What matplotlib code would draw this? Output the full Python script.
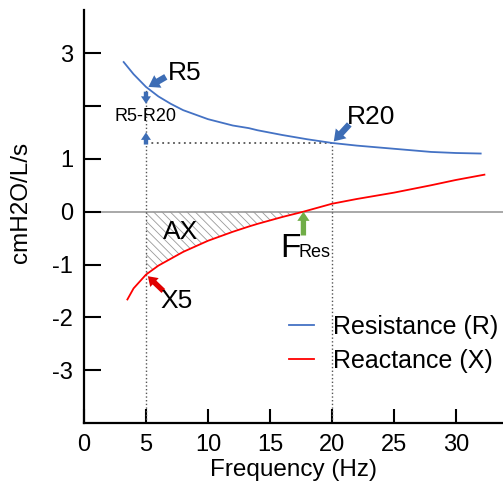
import numpy as np
import matplotlib
matplotlib.use("Agg")
import matplotlib.pyplot as plt

plt.rcParams['font.family'] = ['Liberation Sans', 'DejaVu Sans']
plt.rcParams['hatch.linewidth'] = 0.6

# values
freq_r = [3.2, 4, 5, 6, 7, 8, 10, 12, 13.3, 14, 16, 18, 20, 22, 24, 25, 26, 28, 30, 32]
resistance = [2.83, 2.6, 2.36, 2.18, 2.04, 1.92, 1.75, 1.63, 1.58, 1.54, 1.45, 1.37,
              1.30, 1.25, 1.21, 1.19, 1.17, 1.13, 1.11, 1.10]
freq_x = [3.5, 4, 5, 6, 8, 10, 12, 13.3, 14, 16, 17.7, 18, 20, 22, 25, 28, 30, 32.3]
reactance = [-1.66, -1.45, -1.19, -1.02, -0.76, -0.55, -0.38, -0.28, -0.23, -0.10,
             0.0, 0.02, 0.15, 0.24, 0.36, 0.50, 0.60, 0.70]
r5, r20, x5, f_res = 2.36, 1.30, -1.19, 17.7

blue = '#4472C4'
red = '#FF0000'
green = '#70AD47'
arrow_blue = '#3D6DB5'

fig = plt.figure(figsize=(5.03, 4.87), dpi=100)
ax = fig.add_axes([0.167, 0.131, 0.833, 0.848])

ax.axhline(0, color='#999999', lw=1.2, zorder=1)
ax.plot(freq_r, resistance, color=blue, lw=1.3, label='Resistance (R)', zorder=3)
ax.plot(freq_x, reactance, color=red, lw=1.3, label='Reactance (X)', zorder=3)

# hatched AX area
fx = np.array(freq_x)
rx = np.array(reactance)
mask = (fx >= 5) & (fx <= f_res)
ax.fill_between(fx[mask], rx[mask], 0, facecolor='none', edgecolor='#999999',
                hatch='\\\\\\\\', lw=0, zorder=2)

# dotted guides
ax.plot([5, 5], [-4, r5 - 0.05], color='#555555', ls=':', lw=1)
ax.plot([20, 20], [-4, r20], color='#555555', ls=':', lw=1)
ax.plot([5, 20], [r20, r20], color='#555555', ls=(0, (1, 2)), lw=1.3)


def arrow(tip, tail, color, scale):
    ax.annotate('', xy=tip, xytext=tail,
                arrowprops=dict(arrowstyle='simple,head_width=0.8,head_length=0.6,tail_width=0.35',
                                color=color, lw=0, mutation_scale=scale,
                                shrinkA=0, shrinkB=0))


arrow((5.2, r5), (6.6, 2.55), arrow_blue, 13)
ax.text(6.8, 2.62, 'R5', fontsize=19, va='center', ha='left')
arrow((5, 2.04), (5, 2.27), arrow_blue, 9)
arrow((5, 1.5), (5, 1.27), arrow_blue, 9)
ax.text(5, 1.8, 'R5-R20', fontsize=13, va='center', ha='center')
arrow((20.15, 1.33), (21.4, 1.65), arrow_blue, 13)
ax.text(21.2, 1.8, 'R20', fontsize=19, va='center', ha='left')

arrow((5.15, -1.22), (6.4, -1.5), '#E00000', 11)
ax.text(6.2, -1.68, 'X5', fontsize=19, va='center', ha='left')
ax.text(7.8, -0.38, 'AX', fontsize=19, va='center', ha='center')

arrow((f_res, 0.0), (f_res, -0.45), green, 11)
ax.text(15.8, -0.69, 'F', fontsize=24, va='center', ha='left')
ax.text(17.3, -0.78, 'Res', fontsize=13, va='center', ha='left')

ax.set_xlim(0, 33.8)
ax.set_ylim(-4, 3.81)
ax.set_xticks([0, 5, 10, 15, 20, 25, 30])
ax.set_yticks([-3, -2, -1, 0, 1, 2, 3])
ax.set_yticklabels(['-3', '-2', '-1', '0', '1', '', '3'])
ax.tick_params(direction='in', length=12, width=1.5, labelsize=17, pad=8)
ax.tick_params(axis='x', length=10)
for s in ['top', 'right']:
    ax.spines[s].set_visible(False)
for s in ['left', 'bottom']:
    ax.spines[s].set_linewidth(1.6)

ax.set_xlabel('Frequency (Hz)', fontsize=17.5, labelpad=2)
ax.set_ylabel('cmH2O/L/s', fontsize=17.5)
ax.yaxis.set_label_coords(-0.125, 0.535)

ax.legend(loc='upper left', bbox_to_anchor=(0.49, 0.263), frameon=False, fontsize=18,
          handlelength=1.0, handletextpad=0.75, labelspacing=0.42,
          borderpad=0, borderaxespad=0)

fig.savefig('out.png', dpi=100)
